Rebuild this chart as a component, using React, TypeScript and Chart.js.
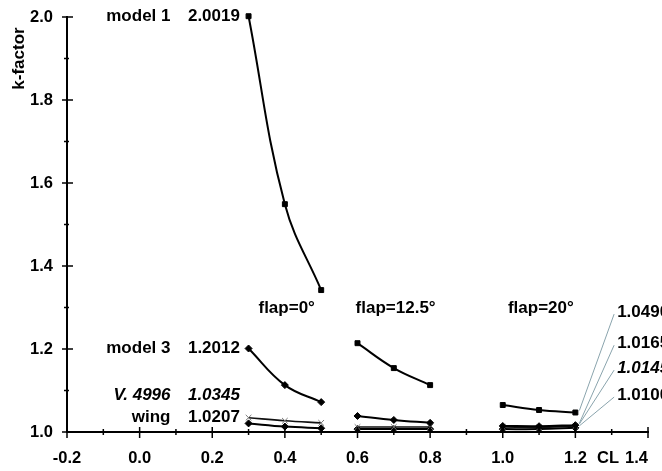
import React, { useEffect, useRef } from 'react';
import { Chart, registerables } from 'chart.js';
Chart.register(...registerables);

// ---- data ----
const flapGroups = ['flap=0°', 'flap=12.5°', 'flap=20°'];
const groupCL = [
  [0.3, 0.4, 0.5],
  [0.6, 0.7, 0.8],
  [1.0, 1.1, 1.2],
];
const flapLabelX = [0.405, 0.705, 1.105];
const flapLabelY = 1.297;

const seriesNames = ['model 1', 'model 3', 'V. 4996', 'wing'];
const model1 = [2.0019, 1.549, 1.342, 1.214, 1.154, 1.113, 1.065, 1.053, 1.047];
const model3 = [1.2012, 1.113, 1.072, 1.0386, 1.029, 1.022, 1.0145, 1.014, 1.0165];
const v4996 = [1.0345, 1.027, 1.022, 1.012, 1.012, 1.012, 1.012, 1.011, 1.0145];
const wing = [1.0207, 1.013, 1.009, 1.007, 1.007, 1.007, 1.007, 1.007, 1.01];
const seriesValues = [model1, model3, v4996, wing];
const seriesItalic = [false, false, true, false];

const startLabels = ['2.0019', '1.2012', '1.0345', '1.0207'];
const startLabelY = [2.0019, 1.2012, 1.089, 1.036];
const nameRightX = 0.085;
const valueLeftX = 0.133;

const endLabels = ['1.0490', '1.0165', '1.0145', '1.0100'];
const endLabelY = [1.289, 1.214, 1.154, 1.089];
const endLabelX = 1.315;

const xTicksMajor = [-0.2, 0.0, 0.2, 0.4, 0.6, 0.8, 1.0, 1.2, 1.4];
const yTicksMajor = [1.0, 1.2, 1.4, 1.6, 1.8, 2.0];
const xAxisTitle = 'CL';
const xAxisTitleX = 1.29;
const yAxisTitle = 'k-factor';

const FONT = '"Liberation Sans", Arial, Helvetica, sans-serif';
const X_MAX = 1.4;

function buildData(vals: number[]) {
  const out: { x: number; y: number | null }[] = [];
  let k = 0;
  groupCL.forEach((g, gi) => {
    g.forEach((x) => {
      out.push({ x, y: vals[k++] });
    });
    if (gi < groupCL.length - 1) out.push({ x: (g[g.length - 1] + groupCL[gi + 1][0]) / 2, y: null });
  });
  return out;
}

const fmt = (v: any) => {
  const n = Number(v);
  return (Math.abs(n) < 1e-9 ? 0 : n).toFixed(1);
};
// last x label is drawn right-aligned by the plugin so it stays inside the canvas
const fmtX = (v: any) => (Math.abs(Number(v) - X_MAX) < 1e-9 ? '' : fmt(v));

const styles = [
  { pointStyle: 'rect', pointRadius: 3.5, borderWidth: 2, color: '#000', pointColor: '#000' },
  { pointStyle: 'rectRot', pointRadius: 3.5, borderWidth: 2, color: '#000', pointColor: '#000' },
  { pointStyle: 'crossRot', pointRadius: 4, borderWidth: 1.6, color: '#111', pointColor: '#777' },
  { pointStyle: 'rectRot', pointRadius: 3.5, borderWidth: 2, color: '#000', pointColor: '#000' },
];

const annotationPlugin = {
  id: 'annot',
  afterDraw(chart: any) {
    const ctx = chart.ctx as CanvasRenderingContext2D;
    const xs = chart.scales.x;
    const ys = chart.scales.y;
    const area = chart.chartArea;
    ctx.save();
    ctx.strokeStyle = '#000';
    ctx.lineWidth = 1.5;
    // major + minor ticks
    xTicksMajor.forEach((v, i) => {
      const px = xs.getPixelForValue(v);
      ctx.beginPath();
      ctx.moveTo(px, area.bottom - 5);
      ctx.lineTo(px, area.bottom + 6);
      ctx.stroke();
      if (i < xTicksMajor.length - 1) {
        const mx = xs.getPixelForValue(v + 0.1);
        ctx.beginPath();
        ctx.moveTo(mx, area.bottom - 3);
        ctx.lineTo(mx, area.bottom + 3);
        ctx.stroke();
      }
    });
    yTicksMajor.forEach((v, i) => {
      const py = ys.getPixelForValue(v);
      ctx.beginPath();
      ctx.moveTo(area.left - 5, py);
      ctx.lineTo(area.left + 6, py);
      ctx.stroke();
      if (i < yTicksMajor.length - 1) {
        const my = ys.getPixelForValue(v + 0.1);
        ctx.beginPath();
        ctx.moveTo(area.left - 3, my);
        ctx.lineTo(area.left + 2, my);
        ctx.stroke();
      }
    });

    ctx.fillStyle = '#000';
    ctx.textBaseline = 'middle';
    // y axis title
    ctx.save();
    ctx.font = `bold 17px ${FONT}`;
    ctx.translate(19, ys.getPixelForValue(1.9));
    ctx.rotate(-Math.PI / 2);
    ctx.textAlign = 'center';
    ctx.fillText(yAxisTitle, 0, 0);
    ctx.restore();

    // x axis title and last tick label
    ctx.font = `bold 16.5px ${FONT}`;
    ctx.textAlign = 'center';
    ctx.fillText(xAxisTitle, xs.getPixelForValue(xAxisTitleX), area.bottom + 26);
    ctx.textAlign = 'right';
    ctx.fillText(fmt(X_MAX), xs.getPixelForValue(X_MAX), area.bottom + 26);

    // flap labels
    ctx.textAlign = 'center';
    ctx.font = `bold 17px ${FONT}`;
    flapGroups.forEach((t, i) => {
      ctx.fillText(t, xs.getPixelForValue(flapLabelX[i]), ys.getPixelForValue(flapLabelY));
    });

    // start labels
    seriesNames.forEach((n, i) => {
      ctx.font = `${seriesItalic[i] ? 'italic ' : ''}bold 17px ${FONT}`;
      const py = ys.getPixelForValue(startLabelY[i]);
      ctx.textAlign = 'right';
      ctx.fillText(n, xs.getPixelForValue(nameRightX), py);
      ctx.textAlign = 'left';
      ctx.fillText(startLabels[i], xs.getPixelForValue(valueLeftX), py);
    });

    // end labels with leader lines
    const lastX = groupCL[groupCL.length - 1][2];
    endLabels.forEach((t, i) => {
      const vals = seriesValues[i];
      const sx = xs.getPixelForValue(lastX) + 4;
      const sy = ys.getPixelForValue(vals[vals.length - 1]) - 2;
      const lx = xs.getPixelForValue(endLabelX);
      const ly = ys.getPixelForValue(endLabelY[i]);
      ctx.strokeStyle = '#8aa4ad';
      ctx.lineWidth = 1;
      ctx.beginPath();
      ctx.moveTo(sx, sy);
      ctx.lineTo(lx - 3, ly + 2);
      ctx.stroke();
      ctx.font = `${seriesItalic[i] ? 'italic ' : ''}bold 17px ${FONT}`;
      ctx.textAlign = 'left';
      ctx.fillStyle = '#000';
      ctx.fillText(t, lx, ly);
    });
    ctx.restore();
  },
};

export default function App() {
  const ref = useRef<HTMLCanvasElement>(null);
  useEffect(() => {
    document.body.style.margin = '0';
    const chart = new Chart(ref.current!, {
      type: 'line',
      data: {
        datasets: seriesValues.map((vals, i) => ({
          label: seriesNames[i],
          data: buildData(vals),
          borderColor: styles[i].color,
          borderWidth: styles[i].borderWidth,
          backgroundColor: styles[i].pointColor,
          pointBackgroundColor: styles[i].pointColor,
          pointBorderColor: styles[i].pointColor,
          pointStyle: styles[i].pointStyle as any,
          pointRadius: styles[i].pointRadius,
          pointBorderWidth: 1,
          tension: 0.4,
          spanGaps: false,
          clip: false as any,
        })),
      },
      options: {
        animation: false,
        responsive: false,
        devicePixelRatio: 1,
        layout: { padding: { top: 17, right: 14, left: 0, bottom: 0 } },
        plugins: { legend: { display: false }, tooltip: { enabled: false } },
        scales: {
          x: {
            type: 'linear',
            min: -0.2,
            max: X_MAX,
            grid: { display: false, drawTicks: false },
            border: { display: true, color: '#000', width: 2 },
            ticks: {
              stepSize: 0.2,
              padding: 17,
              color: '#000',
              font: { family: FONT, size: 16.5, weight: 'bold' },
              callback: fmtX,
              maxRotation: 0,
            },
            afterFit: (s: any) => { s.height = 39; s.paddingLeft = 0; s.paddingRight = 0; },
          },
          y: {
            type: 'linear',
            min: 1.0,
            max: 2.0,
            grid: { display: false, drawTicks: false },
            border: { display: true, color: '#000', width: 2 },
            ticks: {
              stepSize: 0.2,
              padding: 14,
              color: '#000',
              font: { family: FONT, size: 16.5, weight: 'bold' },
              callback: fmt,
            },
            afterFit: (s: any) => { s.width = 67; s.paddingTop = 0; s.paddingBottom = 0; },
          },
        },
      },
      plugins: [annotationPlugin],
    });
    return () => chart.destroy();
  }, []);
  return (
    <div style={{ width: 662, height: 471, background: '#fff' }}>
      <canvas ref={ref} width={662} height={471} style={{ display: 'block' }} />
    </div>
  );
}
